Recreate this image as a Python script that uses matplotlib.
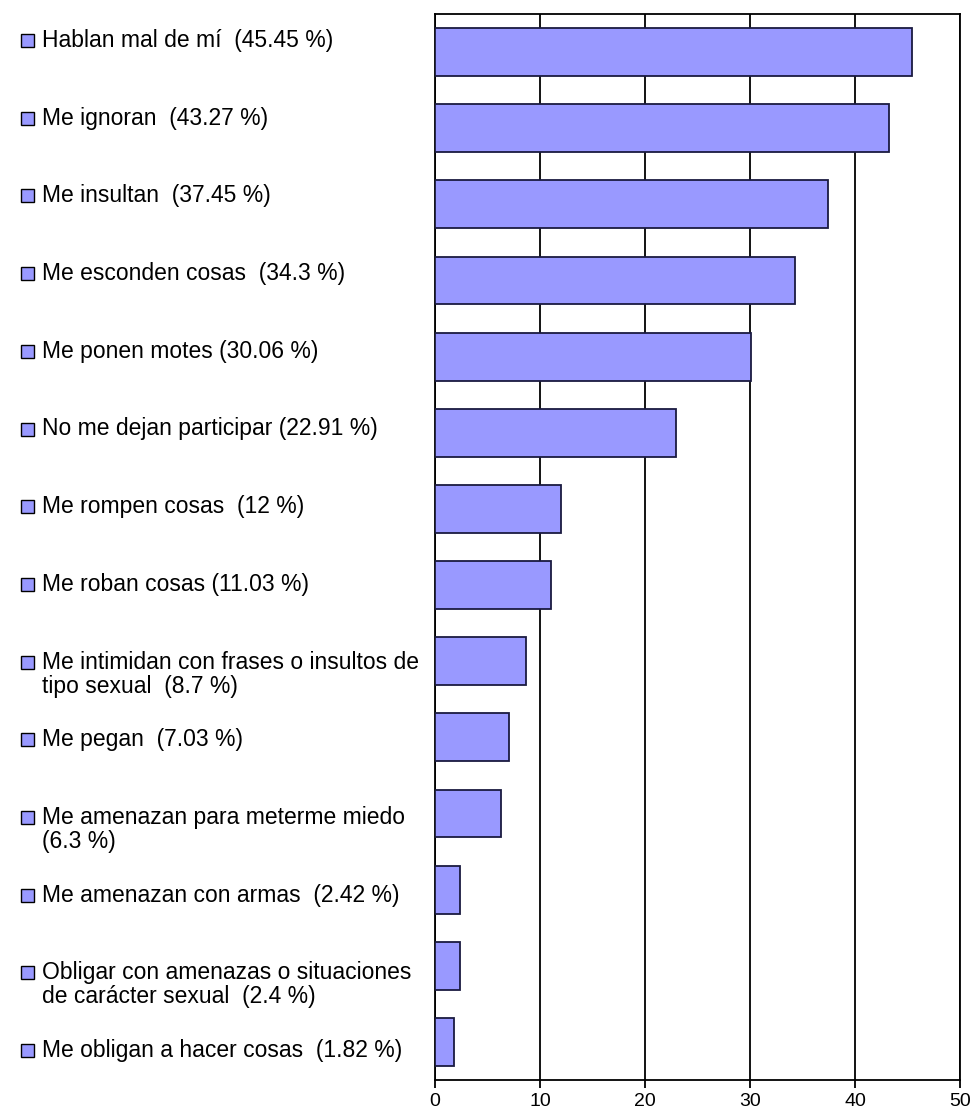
import matplotlib
matplotlib.use("Agg")
import matplotlib.pyplot as plt
from matplotlib.patches import Rectangle

categories = [
    "Hablan mal de mí  (45.45 %)",
    "Me ignoran  (43.27 %)",
    "Me insultan  (37.45 %)",
    "Me esconden cosas  (34.3 %)",
    "Me ponen motes (30.06 %)",
    "No me dejan participar (22.91 %)",
    "Me rompen cosas  (12 %)",
    "Me roban cosas (11.03 %)",
    "Me intimidan con frases o insultos de\ntipo sexual  (8.7 %)",
    "Me pegan  (7.03 %)",
    "Me amenazan para meterme miedo\n(6.3 %)",
    "Me amenazan con armas  (2.42 %)",
    "Obligar con amenazas o situaciones\nde carácter sexual  (2.4 %)",
    "Me obligan a hacer cosas  (1.82 %)",
]
values = [45.45, 43.27, 37.45, 34.3, 30.06, 22.91, 12, 11.03, 8.7, 7.03, 6.3, 2.42, 2.4, 1.82]
xticks = [0, 10, 20, 30, 40, 50]

W, H = 973, 1114
fig = plt.figure(figsize=(W / 100, H / 100), dpi=100)
fig.patch.set_facecolor("white")
ax = fig.add_axes([435 / W, 1 - 1080 / H, (960 - 435) / W, (1080 - 14) / H])

bar_color = "#9999FF"
pos = list(range(len(values)))
ax.barh(pos, values, height=0.63, color=bar_color, edgecolor="#1a1a40", linewidth=1.3, zorder=3)
ax.set_ylim(len(values) - 0.5, -0.5)
ax.set_xlim(0, 50)
ax.set_xticks(xticks)
ax.set_xticklabels([str(t) for t in xticks], fontsize=14, family="Liberation Sans")
ax.set_yticks([])
ax.xaxis.grid(True, color="black", linewidth=1.3, zorder=1)
for s in ax.spines.values():
    s.set_color("black")
    s.set_linewidth(1.3)
ax.tick_params(axis="x", direction="out", length=6, width=1.3, pad=3, colors="black")

# legend-like labels on the left
y0, dy = 40, 77.7
for i, lab in enumerate(categories):
    yc = y0 + i * dy
    fig.patches.append(Rectangle((21 / W, 1 - (yc + 7) / H), 13 / W, 13 / H,
                                 transform=fig.transFigure, facecolor=bar_color,
                                 edgecolor="black", linewidth=1.0))
    fig.text(42 / W, 1 - (yc - 11) / H, lab, ha="left", va="top", fontsize=16.5,
             family="Liberation Sans", color="black", linespacing=1.05)

fig.savefig("out.png", dpi=100, facecolor="white")
